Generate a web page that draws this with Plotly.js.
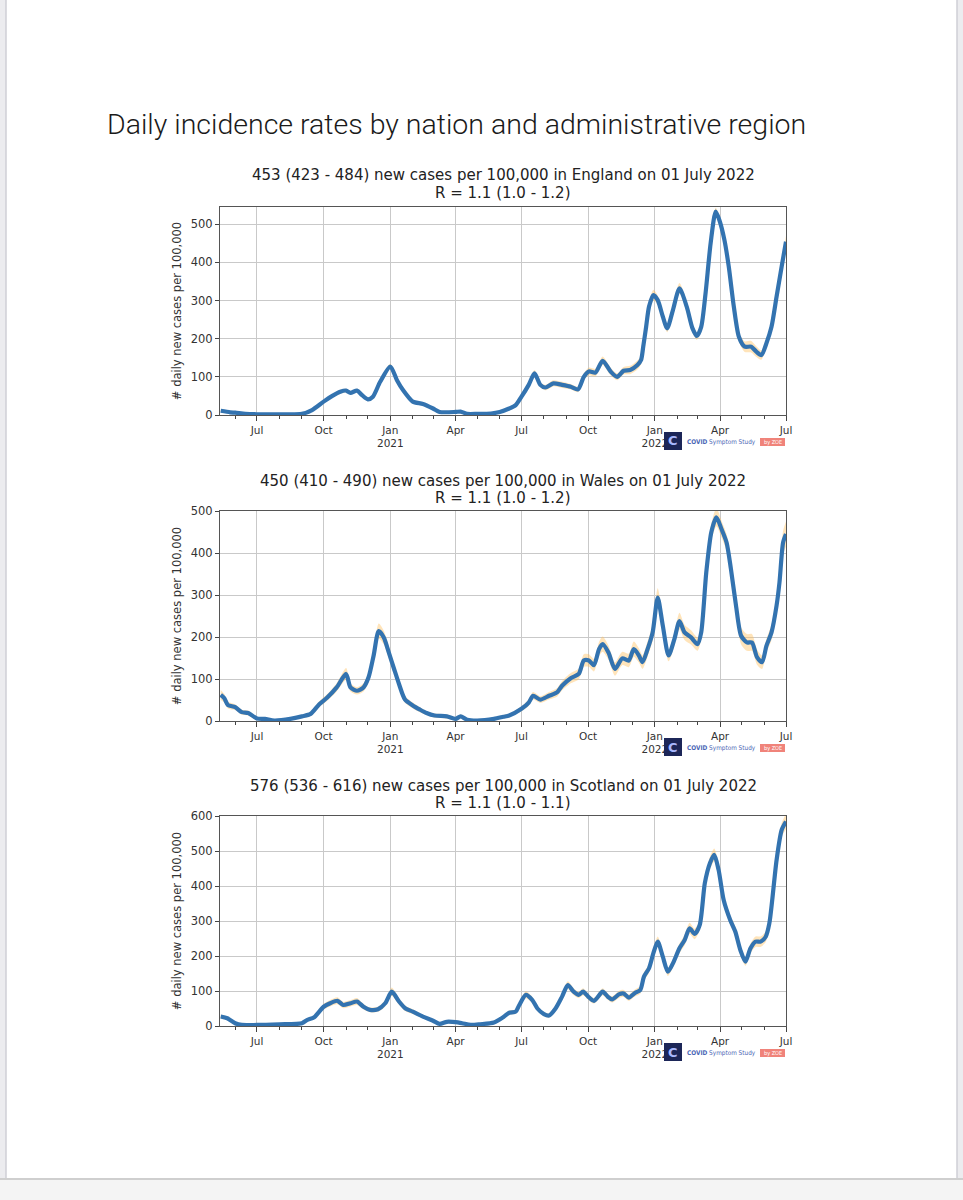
<!DOCTYPE html>
<html>
<head>
<meta charset="utf-8">
<script src="https://cdn.plot.ly/plotly-3.0.1.min.js"></script>
<style>
html,body{margin:0;padding:0;background:#fff;}
#chart{width:963px;height:1200px;}
</style>
</head>
<body>
<div id="chart"></div>
<script>
// ---------------- DATA ----------------
const englandDates = [
  '2020-05-12','2020-05-25','2020-06-01','2020-06-15','2020-07-01','2020-08-01','2020-09-01','2020-09-15','2020-10-01','2020-10-13',
  '2020-10-24','2020-11-01','2020-11-07','2020-11-16','2020-11-23','2020-12-01','2020-12-08','2020-12-18','2021-01-01','2021-01-10',
  '2021-01-19','2021-02-01','2021-02-15','2021-03-01','2021-03-10','2021-04-01','2021-04-08','2021-04-17','2021-05-01','2021-05-20',
  '2021-06-01','2021-06-14','2021-06-23','2021-07-01','2021-07-11','2021-07-19','2021-07-27','2021-08-03','2021-08-14','2021-08-26',
  '2021-09-07','2021-09-17','2021-09-25','2021-10-02','2021-10-11','2021-10-21','2021-11-01','2021-11-10','2021-11-19','2021-11-28',
  '2021-12-08','2021-12-13','2021-12-16','2021-12-20','2021-12-24','2021-12-30','2022-01-05','2022-01-12','2022-01-18','2022-01-26',
  '2022-02-04','2022-02-14','2022-02-22','2022-02-28','2022-03-06','2022-03-12','2022-03-19','2022-03-26','2022-03-31','2022-04-07',
  '2022-04-13','2022-04-20','2022-04-27','2022-05-05','2022-05-14','2022-05-21','2022-05-28','2022-06-04','2022-06-11','2022-06-18',
  '2022-06-25','2022-07-01'];
const englandCases = [
  11,7,6,3,2,2,3,13,35,50,
  61,64,58,64,52,41,48,87,127,92,
  64,35,29,17,8,8,9,3,3,4,
  8,17,26,48,79,109,79,72,83,79,
  74,67,100,114,111,142,114,100,116,118,
  131,144,179,231,284,314,301,258,227,275,
  332,284,227,207,231,319,450,533,511,459,
  389,284,205,179,179,166,157,188,231,310,
  389,454];
const englandBand = [
  3,2,2,1,1,1,1,2,3,4,
  5,5,4,5,4,3,4,5,7,5,
  4,3,3,2,2,2,2,1,1,1,
  2,3,3,5,7,9,7,7,8,8,
  7,7,9,10,10,11,10,9,10,11,
  12,12,12,12,13,14,12,10,10,12,
  14,12,10,10,10,10,10,10,10,10,
  10,10,12,14,15,14,12,10,10,10,
  12,15];

const walesDates = [
  '2020-05-12','2020-05-17','2020-05-22','2020-06-01','2020-06-10','2020-06-19','2020-07-01','2020-07-12','2020-07-25','2020-08-16',
  '2020-09-01','2020-09-13','2020-09-25','2020-10-06','2020-10-19','2020-11-01','2020-11-07','2020-11-16','2020-11-25','2020-12-02',
  '2020-12-09','2020-12-16','2020-12-23','2020-12-30','2021-01-06','2021-01-13','2021-01-21','2021-02-01','2021-02-11','2021-02-20',
  '2021-03-03','2021-03-20','2021-04-01','2021-04-08','2021-04-17','2021-05-01','2021-05-24','2021-06-06','2021-06-14','2021-07-01',
  '2021-07-11','2021-07-17','2021-07-27','2021-08-08','2021-08-19','2021-08-26','2021-09-07','2021-09-18','2021-09-25','2021-10-02',
  '2021-10-09','2021-10-16','2021-10-21','2021-10-29','2021-11-07','2021-11-17','2021-11-26','2021-12-03','2021-12-10','2021-12-15',
  '2021-12-22','2021-12-29','2022-01-05','2022-01-12','2022-01-20','2022-01-28','2022-02-04','2022-02-11','2022-02-20','2022-03-01',
  '2022-03-06','2022-03-13','2022-03-20','2022-03-27','2022-04-03','2022-04-10','2022-04-16','2022-04-23','2022-04-30','2022-05-08',
  '2022-05-15','2022-05-22','2022-05-29','2022-06-04','2022-06-11','2022-06-18','2022-06-22','2022-06-27','2022-07-01'];
const walesCases = [
  62,54,38,33,21,19,6,5,1,5,
  11,17,40,56,80,112,80,72,80,104,
  156,214,199,163,125,88,52,37,27,19,
  13,11,5,11,3,1,5,10,13,29,
  44,60,51,60,68,84,102,112,144,144,
  133,171,183,163,124,149,144,171,156,140,
  171,211,294,227,156,195,238,211,199,183,
  211,354,450,485,457,425,362,275,203,187,
  187,152,140,179,211,275,330,425,445];
const walesBand = [
  12,10,8,7,6,6,4,3,2,3,
  4,5,7,8,10,14,10,9,10,12,
  14,18,16,14,12,10,8,7,6,5,
  5,5,4,5,3,2,3,4,4,6,
  8,9,8,9,10,11,12,13,15,15,
  15,17,18,17,16,16,16,18,17,16,
  18,20,22,18,14,16,20,18,17,16,
  16,18,20,22,20,20,20,20,20,20,
  20,18,16,16,18,20,22,28,30];

const scotlandDates = [
  '2020-05-12','2020-05-21','2020-06-01','2020-06-10','2020-07-01','2020-08-01','2020-09-01','2020-09-08','2020-09-18','2020-10-01',
  '2020-10-10','2020-10-20','2020-10-28','2020-11-07','2020-11-16','2020-11-25','2020-12-04','2020-12-15','2020-12-25','2021-01-03',
  '2021-01-13','2021-01-22','2021-02-01','2021-02-15','2021-03-01','2021-03-10','2021-03-20','2021-04-01','2021-04-10','2021-04-22',
  '2021-05-05','2021-05-24','2021-06-07','2021-06-14','2021-06-23','2021-06-28','2021-07-07','2021-07-16','2021-07-23','2021-08-01',
  '2021-08-08','2021-08-17','2021-08-26','2021-09-03','2021-09-11','2021-09-18','2021-09-24','2021-10-01','2021-10-09','2021-10-21',
  '2021-10-28','2021-11-03','2021-11-13','2021-11-19','2021-11-26','2021-12-05','2021-12-12','2021-12-17','2021-12-24','2021-12-30',
  '2022-01-05','2022-01-12','2022-01-19','2022-01-26','2022-02-04','2022-02-11','2022-02-18','2022-02-25','2022-03-04','2022-03-11',
  '2022-03-18','2022-03-24','2022-03-30','2022-04-06','2022-04-15','2022-04-22','2022-04-29','2022-05-06','2022-05-13','2022-05-20',
  '2022-05-27','2022-06-03','2022-06-08','2022-06-12','2022-06-18','2022-06-25','2022-07-01'];
const scotlandCases = [
  27,22,8,3,3,5,8,17,25,55,
  65,72,60,65,70,55,46,48,65,98,
  70,50,41,27,15,6,12,11,8,3,
  5,10,27,38,41,60,89,74,50,34,
  30,50,84,117,98,89,98,84,72,98,
  84,76,91,93,81,95,103,141,165,208,
  241,198,155,179,222,245,279,263,289,408,
  465,489,446,360,303,270,217,184,222,241,
  241,255,293,360,474,560,584];
const scotlandBand = [
  6,5,3,2,2,2,3,4,5,8,
  9,10,9,9,10,8,7,7,9,12,
  9,8,7,5,4,3,4,4,3,2,
  2,3,5,6,6,8,10,9,7,6,
  6,7,9,11,10,9,10,9,8,10,
  9,9,10,10,9,10,11,12,13,14,
  15,13,12,12,14,15,16,15,15,16,
  18,18,16,15,14,14,13,12,14,15,
  15,15,15,16,18,20,22];

const quarterTicks = ['2020-07-01','2020-10-01','2021-01-01','2021-04-01','2021-07-01','2021-10-01','2022-01-01','2022-04-01','2022-07-01'];
const quarterLabels = ['Jul','Oct','Jan<br>2021','Apr','Jul','Oct','Jan<br>2022','Apr','Jul'];
const yTicks = [0,100,200,300,400,500,600];

const headlines = [
  '453 (423 - 484) new cases per 100,000 in England on 01 July 2022',
  '450 (410 - 490) new cases per 100,000 in Wales on 01 July 2022',
  '576 (536 - 616) new cases per 100,000 in Scotland on 01 July 2022'];
const rLines = ['R = 1.1 (1.0 - 1.2)','R = 1.1 (1.0 - 1.2)','R = 1.1 (1.0 - 1.1)'];
const yMax = [545, 500, 600];
const pageTitle = 'Daily incidence rates by nation and administrative region';
const yTitle = '# daily new cases per 100,000';

// ---------------- LAYOUT GEOMETRY ----------------
const FW = 963, FH = 1200;
const PL = 220, PR = 786;
const panelBox = [
  {top:207, bottom:415, t1:175, t2:193},
  {top:511, bottom:721, t1:481, t2:498},
  {top:816, bottom:1026, t1:786, t2:803}];
const px = x => x / FW;
const py = y => 1 - y / FH;

const chartFont = 'DejaVu Sans, sans-serif';
const condFont = 'DejaVu Sans Condensed, DejaVu Sans, sans-serif';
const lineColor = '#3373b0';
const bandColor = 'rgba(255,190,90,0.42)';

const series = [
  {d: englandDates, v: englandCases, b: englandBand},
  {d: walesDates, v: walesCases, b: walesBand},
  {d: scotlandDates, v: scotlandCases, b: scotlandBand}];

const traces = [];
const layout = {
  width: FW, height: FH, autosize: false,
  margin: {l:0, r:0, t:0, b:0, pad:0},
  paper_bgcolor: '#ffffff', plot_bgcolor: '#ffffff',
  showlegend: false,
  annotations: [], shapes: []
};

series.forEach((s, i) => {
  const sfx = i === 0 ? '' : String(i + 1);
  const xa = 'x' + sfx, ya = 'y' + sfx;
  const lower = s.v.map((val, k) => val - s.b[k]);
  const upper = s.v.map((val, k) => val + s.b[k]);
  traces.push({x: s.d, y: lower, xaxis: xa, yaxis: ya, type: 'scatter', mode: 'lines',
    line: {width: 0, shape: 'spline', smoothing: 0.7, color: bandColor}, hoverinfo: 'skip'});
  traces.push({x: s.d, y: upper, xaxis: xa, yaxis: ya, type: 'scatter', mode: 'lines',
    fill: 'tonexty', fillcolor: bandColor,
    line: {width: 0, shape: 'spline', smoothing: 0.7, color: bandColor}, hoverinfo: 'skip'});
  traces.push({x: s.d, y: s.v, xaxis: xa, yaxis: ya, type: 'scatter', mode: 'lines',
    line: {width: 4.2, shape: 'spline', smoothing: 0.7, color: lineColor}, hoverinfo: 'skip'});

  const pb = panelBox[i];
  layout['xaxis' + sfx] = {
    domain: [px(PL), px(PR)], anchor: ya, type: 'date',
    range: ['2020-05-11', '2022-07-01'],
    tickmode: 'array', tickvals: quarterTicks, ticktext: quarterLabels,
    ticks: 'outside', ticklen: 5, tickwidth: 1, tickcolor: '#444',
    minor: {dtick: 'M1', tick0: '2020-01-01', ticks: 'outside', ticklen: 3, tickwidth: 1, tickcolor: '#444', showgrid: false},
    showgrid: true, gridcolor: '#c9c9c9', gridwidth: 1,
    showline: true, linecolor: '#555', linewidth: 1, mirror: true,
    zeroline: false, fixedrange: true,
    tickfont: {family: chartFont, size: 10.5, color: '#333'}
  };
  layout['yaxis' + sfx] = {
    domain: [py(pb.bottom), py(pb.top)], anchor: xa,
    range: [0, yMax[i]],
    tickmode: 'array', tickvals: yTicks.filter(t => t <= yMax[i]),
    ticks: 'outside', ticklen: 4, tickwidth: 1, tickcolor: '#444',
    showgrid: true, gridcolor: '#c9c9c9', gridwidth: 1,
    showline: true, linecolor: '#555', linewidth: 1, mirror: true,
    zeroline: false, fixedrange: true,
    tickfont: {family: chartFont, size: 11.5, color: '#333'},
    title: {text: yTitle, font: {family: chartFont, size: 11.5, color: '#333'}, standoff: 6}
  };

  const cx = px((PL + PR) / 2);
  layout.annotations.push({xref: 'paper', yref: 'paper', x: cx, y: py(pb.t1), xanchor: 'center', yanchor: 'middle',
    text: headlines[i], showarrow: false, font: {family: chartFont, size: 15, color: '#222'}});
  layout.annotations.push({xref: 'paper', yref: 'paper', x: cx, y: py(pb.t2), xanchor: 'center', yanchor: 'middle',
    text: rLines[i], showarrow: false, font: {family: chartFont, size: 15, color: '#222'}});

  // COVID Symptom Study logo
  const b = pb.bottom;
  layout.shapes.push({type: 'rect', xref: 'paper', yref: 'paper', x0: px(664), x1: px(682), y0: py(b + 35), y1: py(b + 17),
    fillcolor: '#1c2658', line: {width: 0}, layer: 'above'});
  layout.annotations.push({xref: 'paper', yref: 'paper', x: px(673), y: py(b + 26), xanchor: 'center', yanchor: 'middle',
    text: '<b>C</b>', showarrow: false, font: {family: chartFont, size: 13, color: '#a9b8ff'}});
  layout.annotations.push({xref: 'paper', yref: 'paper', x: px(685), y: py(b + 27), xanchor: 'left', yanchor: 'middle',
    text: '<b>COVID</b> Symptom Study', showarrow: false, font: {family: condFont, size: 6.4, color: '#4a66b5'}});
  layout.shapes.push({type: 'rect', xref: 'paper', yref: 'paper', x0: px(760), x1: px(785), y0: py(b + 31), y1: py(b + 23),
    fillcolor: '#f0837a', line: {width: 0}, layer: 'above'});
  layout.annotations.push({xref: 'paper', yref: 'paper', x: px(772.5), y: py(b + 27), xanchor: 'center', yanchor: 'middle',
    text: 'by ZOE', showarrow: false, font: {family: condFont, size: 5.5, color: '#ffffff'}});
});

// Page title
layout.annotations.push({xref: 'paper', yref: 'paper', x: px(105), y: py(125), xanchor: 'left', yanchor: 'middle',
  text: pageTitle, showarrow: false, font: {family: 'Roboto, sans-serif', size: 28.5, weight: 300, color: '#1a1a1a'}});

// Page frame (document viewer borders)
layout.shapes.push({type: 'rect', xref: 'paper', yref: 'paper', x0: 0, x1: px(6), y0: py(1179), y1: 1,
  fillcolor: '#ececef', line: {width: 0}, layer: 'below'});
layout.shapes.push({type: 'line', xref: 'paper', yref: 'paper', x0: px(6), x1: px(6), y0: py(1179), y1: 1,
  line: {color: '#cfcfd6', width: 1.5}, layer: 'below'});
layout.shapes.push({type: 'rect', xref: 'paper', yref: 'paper', x0: px(957), x1: 1, y0: py(1179), y1: 1,
  fillcolor: '#ececef', line: {width: 0}, layer: 'below'});
layout.shapes.push({type: 'line', xref: 'paper', yref: 'paper', x0: px(957), x1: px(957), y0: py(1179), y1: 1,
  line: {color: '#cfcfd6', width: 1.5}, layer: 'below'});
layout.shapes.push({type: 'rect', xref: 'paper', yref: 'paper', x0: 0, x1: 1, y0: 0, y1: py(1179),
  fillcolor: '#f4f4f4', line: {width: 0}, layer: 'below'});
layout.shapes.push({type: 'line', xref: 'paper', yref: 'paper', x0: 0, x1: 1, y0: py(1179), y1: py(1179),
  line: {color: '#cfcfcf', width: 2}, layer: 'below'});

Plotly.newPlot('chart', traces, layout, {staticPlot: true, displayModeBar: false});
</script>
</body>
</html>
